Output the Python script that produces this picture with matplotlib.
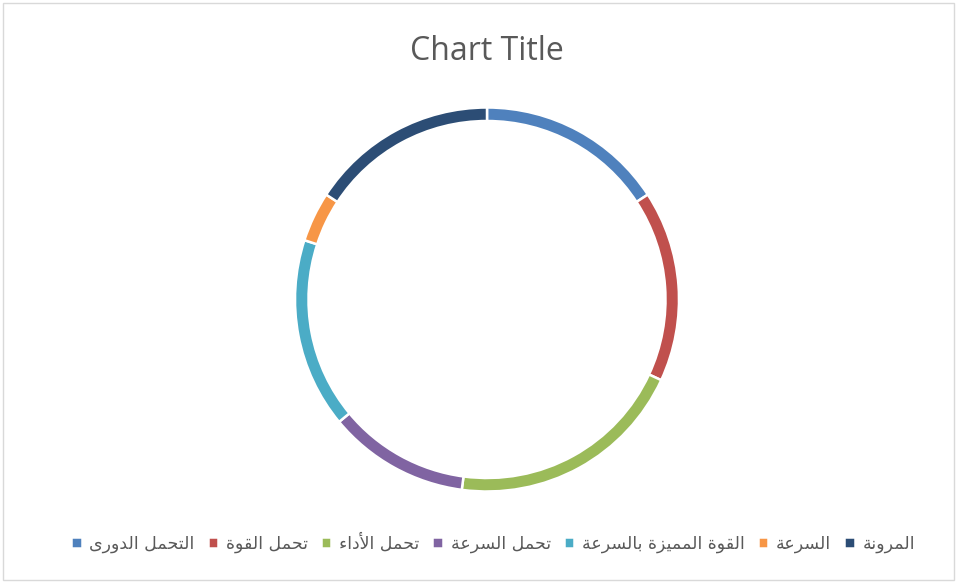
import matplotlib
matplotlib.use("Agg")
import matplotlib.pyplot as plt
from matplotlib.patches import Rectangle

# ---------------- data ----------------
categories = ["التحمل الدورى", "تحمل القوة", "تحمل الأداء", "تحمل السرعة",
              "القوة المميزة بالسرعة", "السرعة", "المرونة"]
values = [15.8, 16.1, 20.2, 11.9, 16.0, 4.2, 15.8]
colors = ["#4F81BD", "#C0504D", "#9BBB59", "#8064A2", "#4BACC6", "#F79646", "#2C4D75"]
title = "Chart Title"

# ------------- minimal Arabic shaping (presentation forms + RTL) -------------
# char: (isolated, final, initial, medial); None for non-dual-joining
FORMS = {
    "\u0621": ("\uFE80", None, None, None),
    "\u0623": ("\uFE83", "\uFE84", None, None),
    "\u0627": ("\uFE8D", "\uFE8E", None, None),
    "\u0628": ("\uFE8F", "\uFE90", "\uFE91", "\uFE92"),
    "\u0629": ("\uFE93", "\uFE94", None, None),
    "\u062A": ("\uFE95", "\uFE96", "\uFE97", "\uFE98"),
    "\u062D": ("\uFEA1", "\uFEA2", "\uFEA3", "\uFEA4"),
    "\u062F": ("\uFEA9", "\uFEAA", None, None),
    "\u0631": ("\uFEAD", "\uFEAE", None, None),
    "\u0632": ("\uFEAF", "\uFEB0", None, None),
    "\u0633": ("\uFEB1", "\uFEB2", "\uFEB3", "\uFEB4"),
    "\u0639": ("\uFEC9", "\uFECA", "\uFECB", "\uFECC"),
    "\u0642": ("\uFED5", "\uFED6", "\uFED7", "\uFED8"),
    "\u0644": ("\uFEDD", "\uFEDE", "\uFEDF", "\uFEE0"),
    "\u0645": ("\uFEE1", "\uFEE2", "\uFEE3", "\uFEE4"),
    "\u0646": ("\uFEE5", "\uFEE6", "\uFEE7", "\uFEE8"),
    "\u0648": ("\uFEED", "\uFEEE", None, None),
    "\u0649": ("\uFEEF", "\uFEF0", None, None),
    "\u064A": ("\uFEF1", "\uFEF2", "\uFEF3", "\uFEF4"),
}
LAM_ALEF = {"\u0627": ("\uFEFB", "\uFEFC"), "\u0623": ("\uFEF7", "\uFEF8")}


def _dual(c):
    return c in FORMS and FORMS[c][2] is not None


def _joins(c):
    return c in FORMS and FORMS[c][1] is not None


def shape(text):
    chars = list(text)
    out = []
    i = 0
    n = len(chars)
    while i < n:
        c = chars[i]
        if c not in FORMS:
            out.append(c)
            i += 1
            continue
        prev = chars[i - 1] if i > 0 else ""
        join_prev = _dual(prev) and _joins(c)
        # lam-alef ligature
        if c == "\u0644" and i + 1 < n and chars[i + 1] in LAM_ALEF:
            iso, fin = LAM_ALEF[chars[i + 1]]
            out.append(fin if join_prev else iso)
            i += 2
            continue
        nxt = chars[i + 1] if i + 1 < n else ""
        join_next = _dual(c) and _joins(nxt)
        iso, fin, ini, med = FORMS[c]
        if join_prev and join_next:
            out.append(med)
        elif join_prev:
            out.append(fin)
        elif join_next:
            out.append(ini)
        else:
            out.append(iso)
        i += 1
    return "".join(out)[::-1]


# ---------------- figure ----------------
W, H = 957, 583
fig = plt.figure(figsize=(W / 100, H / 100), dpi=100)
fig.patch.set_facecolor("white")

# chart border
fig.add_artist(Rectangle((3 / W, 3 / H), 1 - 6 / W, 1 - 6 / H, transform=fig.transFigure,
                         fill=False, edgecolor="#D9D9D9", linewidth=1.0))

cx, cy, R = 487, 299.5, 192
ax = fig.add_axes([(cx - R) / W, (H - cy - R) / H, 2 * R / W, 2 * R / H])
wedges, _ = ax.pie(values, colors=colors, startangle=90, counterclock=False,
                   radius=1.0,
                   wedgeprops=dict(width=13.5 / R, edgecolor="white", linewidth=1.8))
ax.set_xlim(-1, 1)
ax.set_ylim(-1, 1)
ax.set_aspect("equal")
ax.axis("off")

fig.text(cx / W, 1 - 51 / H, title, ha="center", va="center",
         fontsize=23, color="#595959", family=["Open Sans", "DejaVu Sans"])

leg = fig.legend(wedges, [shape(c) for c in categories], loc="center",
                 bbox_to_anchor=(493 / W, 1 - 543 / H), ncol=len(categories),
                 frameon=False, handlelength=0.6, handleheight=0.6,
                 handletextpad=0.45, columnspacing=0.75,
                 prop={"family": "DejaVu Sans", "size": 12.5})
for t in leg.get_texts():
    t.set_color("#595959")

fig.savefig("out.png", dpi=100, facecolor="white")
